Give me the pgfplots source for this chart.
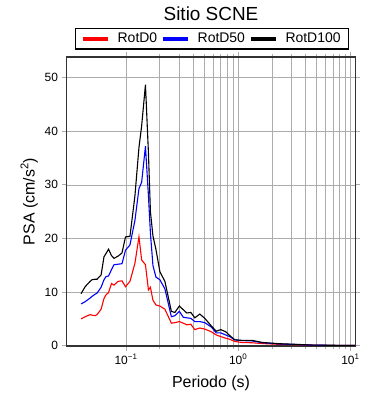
\documentclass[border=0pt]{standalone}
\usepackage{fontspec}
\setmainfont{Liberation Sans}
\usepackage{pgfplots}
\usepackage{pgfplotstable}
\pgfplotsset{compat=1.18}

\pgfplotstableread{
T       k     b     r
0.0398  9.7   7.8   5.0
0.0432  11.0  8.2   5.4
0.0479  12.0  8.9   5.8
0.0498  12.3  9.2   5.7
0.0530  12.4  9.6   5.6
0.0552  12.4  9.8   5.8
0.0600  13.2  10.9  6.8
0.0637  16.6  12.3  8.8
0.0664  17.2  12.9  9.5
0.0699  18.0  13.0  9.9
0.0743  16.8  14.2  11.6
0.0782  16.3  15.1  11.3
0.0849  16.7  15.2  12.0
0.0921  17.3  15.3  12.1
0.0990  20.3  17.8  11.0
0.1085  20.4  18.8  12.0
0.1202  28.0  23.4  15.4
0.1305  37.0  29.3  20.3
0.1379  41.0  30.5  16.0
0.1491  48.7  37.2  15.1
0.1585  36.0  28.0  10.4
0.1651  25.0  21.0  10.9
0.1738  20.5  15.0  8.5
0.1848  18.0  12.8  7.6
0.2005  13.8  12.3  7.4
0.2222  12.0  10.6  6.8
0.2538  6.4   5.4   4.2
0.2726  6.2   5.6   4.3
0.2989  7.4   6.4   4.5
0.3244  6.7   5.3   4.2
0.3484  6.1   5.2   3.9
0.3783  6.2   5.1   4.0
0.4105  5.2   4.5   3.0
0.4548  5.9   4.5   3.3
0.5038  5.1   4.3   3.1
0.5754  3.7   3.5   2.6
0.6374  2.7   2.4   2.0
0.6990  3.0   2.4   1.7
0.7745  2.6   2.0   1.4
0.8403  1.9   1.7   1.2
0.9309  1.1   1.1   0.8
1.074   1.0   0.95  0.6
1.318   1.0   0.9   0.55
1.651   0.6   0.55  0.4
2.338   0.37  0.33  0.25
3.311   0.25  0.22  0.17
4.595   0.12  0.10  0.10
6.506   0.08  0.07  0.06
10.0    0.06  0.05  0.04
11.0    0.05  0.05  0.04
}\datatable

\begin{document}
\begin{tikzpicture}
\begin{axis}[
  scale only axis,
  width=289bp, height=288.4bp,
  xmode=log,
  xmin=0.0295, xmax=11.1,
  ymin=0, ymax=53.8,
  xtick={0.1,1,10},
  xticklabels={10\textsuperscript{−1},10\textsuperscript{0},10\textsuperscript{1}},
  ytick={0,10,20,30,40,50},
  /pgf/number format/assume math mode=true,
  tick label style={font=\fontsize{12}{14}\selectfont},
  xmajorgrids=true, xminorgrids=true, ymajorgrids=true,
  grid style={gray!65, line width=0.7bp},
  minor grid style={gray!65, line width=0.7bp},
  tick align=outside,
  major tick length=5bp,
  minor tick length=3bp,
  tick style={gray!65, line width=0.8bp},
  axis line style={black!80, line width=1.8bp},
  xlabel={Periodo (s)},
  ylabel={PSA (cm/s\textsuperscript{2})},
  label style={font=\fontsize{16}{18}\selectfont},
  xlabel style={at={(0.5,-0.129)}, anchor=center},
  ylabel style={at={(-0.129,0.5)}, anchor=center},
  title={Sitio SCNE},
  title style={at={(0.5,1.13)}, anchor=center, yshift=0pt, font=\fontsize{19}{21}\selectfont},
  legend columns=3,
  legend style={at={(0.503,1.064)}, anchor=center, draw=black, line width=1.2bp,
    inner xsep=6.5bp, inner ysep=3bp, nodes={inner sep=1.5bp},
    font=\fontsize{14}{16}\selectfont,
    /tikz/every even column/.append style={column sep=3bp},
    /tikz/every odd column/.append style={column sep=6bp}},
  legend image code/.code={\draw[#1, line width=3.5bp] (0bp,0bp) -- (25bp,0bp);},
]
\addplot[red, line width=1.1bp] table[x=T, y=r] {\datatable};
\addlegendentry{RotD0}
\addplot[blue, line width=1.1bp] table[x=T, y=b] {\datatable};
\addlegendentry{RotD50}
\addplot[black, line width=1.1bp] table[x=T, y=k] {\datatable};
\addlegendentry{RotD100}
\end{axis}
\pgfresetboundingbox
\path[use as bounding box] ([xshift=-66.5bp,yshift=-54.3bp]current axis.south west) rectangle ([xshift=34.5bp,yshift=57.3bp]current axis.north east);
\end{tikzpicture}
\end{document}
